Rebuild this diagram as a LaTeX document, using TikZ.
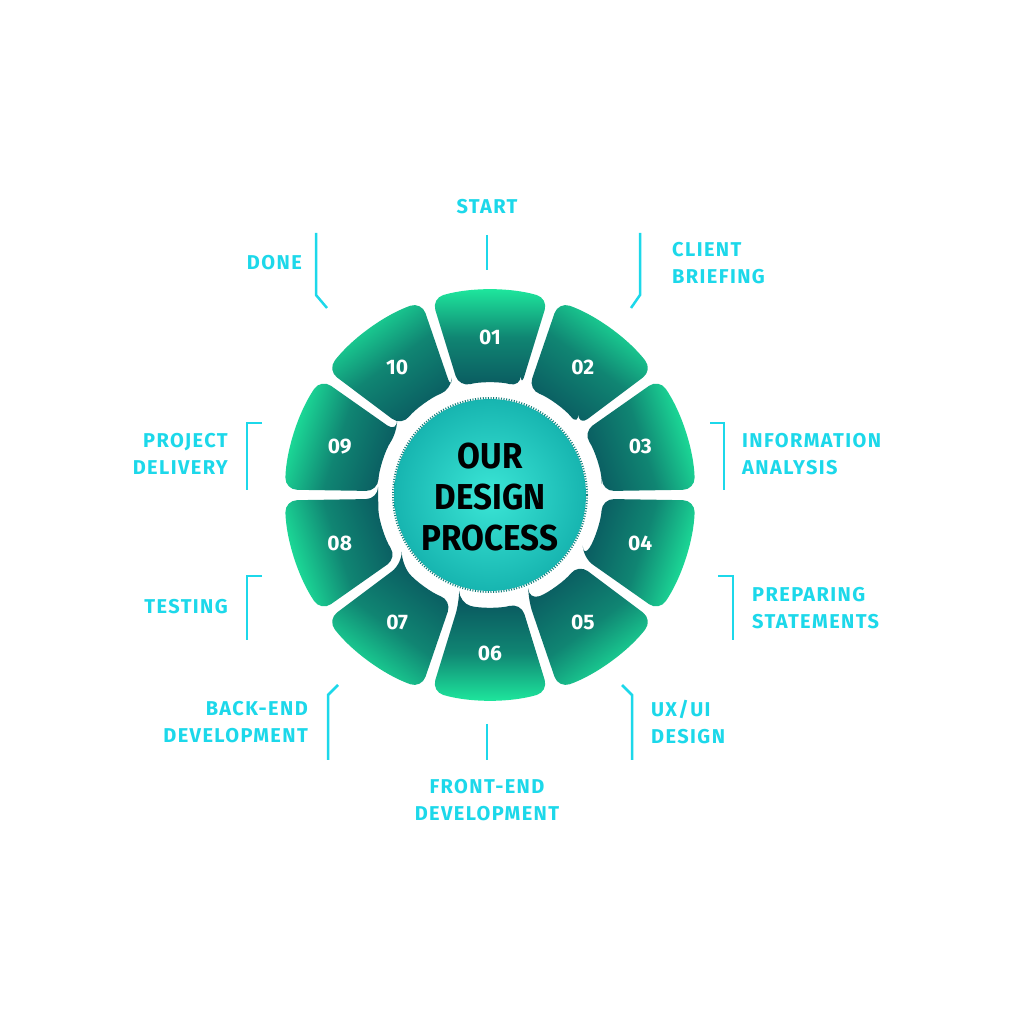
\documentclass[tikz,border=0pt]{standalone}
\usepackage{fontspec}
\setmainfont{Fira Sans}
\definecolor{lab}{HTML}{1CD8EA}
\definecolor{gbright}{HTML}{1EEA9E}
\definecolor{gdark}{HTML}{0A5A60}
\definecolor{cin}{HTML}{3BE6D6}
\definecolor{cout}{HTML}{17B5B0}
\tikzset{
  lbl/.style={text=lab,font=\fontsize{20}{26.5}\selectfont\bfseries\addfontfeature{LetterSpace=7},align=center,inner sep=0pt},
  brk/.style={draw=lab,line width=2.5pt},
  num/.style={text=white,font=\fontsize{21}{24}\selectfont\bfseries},
}
\begin{document}
\begin{tikzpicture}[x=1pt,y=1pt]
\useasboundingbox (0,0) rectangle (1024,1024);
\fill[white] (0,0) rectangle (1024,1024);
\begin{scope}[shift={(490,529)}]
\foreach \n/\a in {01/90,02/54,03/18,04/-18,05/-54,06/-90,07/-126,08/-162,09/162,10/126}{
  \shade[rounded corners=12pt,top color=gbright,bottom color=gdark,middle color=gdark!70!gbright,shading angle=\a-90]
    (\a-16:112pt) -- (\a-16.5:205pt) arc[start angle=\a-16.5,end angle=\a+16.5,radius=205pt] -- (\a+16:112pt) arc[start angle=\a+16,end angle=\a-16,radius=112pt] -- cycle;
  \node[num] (n\n) at (\a:158pt) {\n};
}
\shade[inner color=cin,outer color=cout] (0,0) circle (96pt);
\draw[cout!70!black,line width=2pt,dash pattern=on 1pt off 1.6pt] (0,0) circle (97pt);
\node[font=\fontsize{36}{41}\selectfont\bfseries,align=center,text=black] (title) at (0,-2) {\scalebox{0.92}[1]{OUR}\\\scalebox{0.92}[1]{DESIGN}\\\scalebox{0.92}[1]{PROCESS}};
\end{scope}
% labels
\node[lbl] (l1) at (487,817) {START};
\node[lbl,anchor=west,align=left] (l2) at (672,761) {CLIENT\\BRIEFING};
\node[lbl,anchor=west,align=left] (l3) at (742,570) {INFORMATION\\ANALYSIS};
\node[lbl,anchor=west,align=left] (l4) at (752,416) {PREPARING\\STATEMENTS};
\node[lbl,anchor=west,align=left] (l5) at (651,302) {UX/UI\\DESIGN};
\node[lbl] (l6) at (487,224) {FRONT-END\\DEVELOPMENT};
\node[lbl,anchor=east,align=right] (l7) at (308,302) {BACK-END\\DEVELOPMENT};
\node[lbl,anchor=east,align=right] (l8) at (228,417) {TESTING};
\node[lbl,anchor=east,align=right] (l9) at (228,570) {PROJECT\\DELIVERY};
\node[lbl,anchor=east,align=right] (l10) at (302,761) {DONE};
% brackets
\draw[brk] (487,789) -- (487,754);
\draw[brk] (640,791) -- (640,729) -- (631,716);
\draw[brk] (710,601) -- (724,601) -- (724,534);
\draw[brk] (718,448) -- (733,448) -- (733,384);
\draw[brk] (622,339) -- (632,329) -- (632,264);
\draw[brk] (487,300) -- (487,264);
\draw[brk] (338,339) -- (328,329) -- (328,264);
\draw[brk] (262,448) -- (247,448) -- (247,384);
\draw[brk] (262,601) -- (247,601) -- (247,534);
\draw[brk] (316,791) -- (316,729) -- (327,716);
\end{tikzpicture}
\end{document}
